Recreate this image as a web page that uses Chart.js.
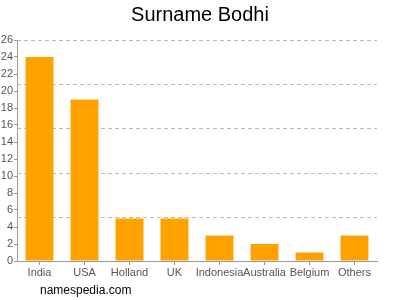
<!DOCTYPE html>
<html>
<head>
<meta charset="utf-8">
<script src="https://cdn.jsdelivr.net/npm/chart.js@4.4.0/dist/chart.umd.min.js"></script>
<style>
  html, body { margin: 0; padding: 0; background: #fff; }
  #wrap { width: 400px; height: 300px; }
</style>
</head>
<body>
<div id="wrap"><canvas id="c" width="400" height="300"></canvas></div>
<script>
const countries = ['India', 'USA', 'Holland', 'UK', 'Indonesia', 'Australia', 'Belgium', 'Others'];
const counts = [24, 19, 5, 5, 3, 2, 1, 3];
const yMax = 26;
const gridLevels = [5.2, 10.4, 15.6, 20.8, 26];

// dashed horizontal lines, placed with the y scale
const dashedGrid = {
  id: 'dashedGrid',
  beforeDatasetsDraw(chart) {
    const { ctx, chartArea, scales } = chart;
    ctx.save();
    ctx.strokeStyle = '#bbb';
    ctx.lineWidth = 1;
    ctx.setLineDash([4, 3]);
    gridLevels.forEach(v => {
      const y = Math.round(scales.y.getPixelForValue(v)) + 0.5;
      ctx.beginPath();
      ctx.moveTo(chartArea.left, y);
      ctx.lineTo(chartArea.right, y);
      ctx.stroke();
    });
    ctx.restore();
  }
};

// footer text in the bottom left
const footer = {
  id: 'footer',
  afterDraw(chart) {
    const ctx = chart.ctx;
    ctx.save();
    ctx.font = '12px "Liberation Sans", Arial, sans-serif';
    ctx.fillStyle = '#000';
    ctx.textBaseline = 'middle';
    ctx.fillText('namespedia.com', 40, 291);
    ctx.restore();
  }
};

new Chart(document.getElementById('c'), {
  type: 'bar',
  data: {
    labels: countries,
    datasets: [{
      data: counts,
      backgroundColor: '#ffa200',
      barPercentage: 0.62,
      categoryPercentage: 1
    }]
  },
  options: {
    responsive: false,
    animation: false,
    plugins: {
      legend: { display: false },
      tooltip: { enabled: false },
      title: {
        display: true,
        text: 'Surname Bodhi',
        color: '#000',
        font: { family: '"Liberation Sans", Arial, sans-serif', size: 20, weight: 'normal' },
        padding: { top: 3, bottom: 13 }
      }
    },
    scales: {
      x: {
        grid: { display: true, drawOnChartArea: false, offset: false, tickLength: 4, color: '#999' },
        border: { display: true, color: '#999' },
        ticks: { color: '#555', font: { family: '"Liberation Sans", Arial, sans-serif', size: 11 }, padding: 1, maxRotation: 0, autoSkip: false },
        afterFit(s) { s.height = 39; }
      },
      y: {
        min: 0, max: yMax,
        grid: { display: true, drawOnChartArea: false, tickLength: 3, color: '#999' },
        border: { display: true, color: '#999' },
        ticks: { stepSize: 2, color: '#555', font: { family: '"Liberation Sans", Arial, sans-serif', size: 11 }, padding: 1 },
        afterFit(s) { s.width = 17; }
      },
      // empty right margin so the title stays centred on the full width
      r: {
        position: 'right',
        min: 0, max: yMax,
        grid: { display: false, drawTicks: false },
        border: { display: false },
        ticks: { display: false },
        afterFit(s) { s.width = 23; }
      }
    }
  },
  plugins: [dashedGrid, footer]
});
</script>
</body>
</html>
